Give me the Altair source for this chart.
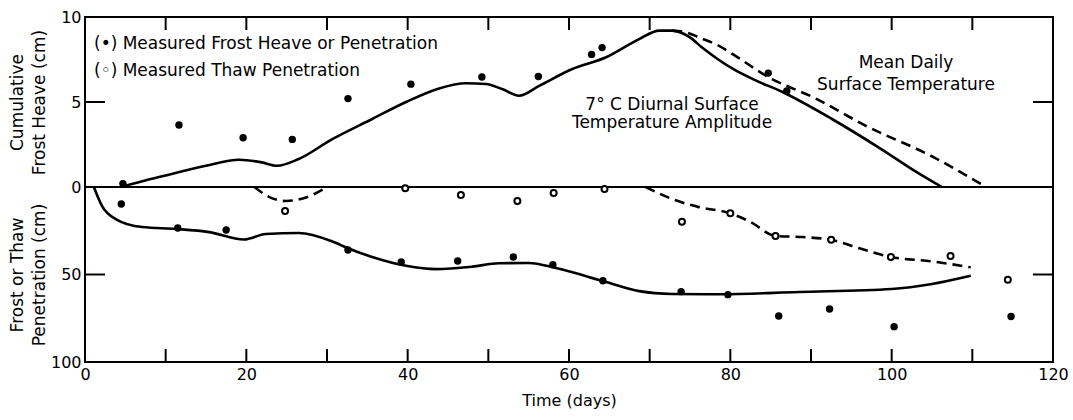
import altair as alt
import pandas as pd

FONT = "DejaVu Sans"

# ---------------- top panel : cumulative frost heave (cm) ----------------
heave_7c_day = [4.5, 8.0, 11.7, 15.0, 19.1, 21.9, 23.8, 26.5, 30.6, 35.6, 39.8, 43.9, 47.2,
                49.7, 51.7, 53.8, 56.3, 60.4, 64.6, 68.7, 71.2, 72.8, 75.0, 76.5, 78.5, 80.5,
                83.0, 86.4, 92.6, 98.8, 103.0, 106.2]
heave_7c_cm = [0.0, 0.45, 0.88, 1.25, 1.6, 1.45, 1.25, 1.65, 2.8, 4.0, 5.0, 5.8, 6.1,
               6.06, 5.76, 5.37, 5.95, 6.94, 7.63, 8.7, 9.2, 9.2, 8.8, 8.2, 7.5, 6.9,
               6.3, 5.6, 4.0, 2.2, 0.9, 0.0]

heave_mean_day = [72.8, 74.5, 76.1, 78.6, 81.0, 84.4, 90.6, 96.8, 105.0, 111.7]
heave_mean_cm = [9.2, 9.1, 8.8, 8.3, 7.6, 6.55, 5.2, 3.6, 1.8, 0.0]

heave_meas_day = [4.7, 11.65, 19.6, 25.7, 32.6, 40.4, 49.2, 56.2, 62.8, 64.1, 84.7, 87.0]
heave_meas_cm = [0.2, 3.65, 2.9, 2.8, 5.2, 6.05, 6.47, 6.5, 7.8, 8.2, 6.7, 5.65]

# ---------------- bottom panel : frost or thaw penetration (cm) ----------------
frost_pen_day = [1.1, 2.1, 3.8, 7.1, 11.3, 15.4, 19.7, 22.4, 26.5, 30.6, 32.6, 35.6, 39.8,
                 43.5, 48.0, 51.3, 55.0, 58.4, 64.6, 68.7, 72.8, 78.6, 88.5, 100.0, 105.0, 109.8]
frost_pen_cm = [0.0, 10.8, 18.3, 22.9, 24.0, 25.8, 30.0, 26.9, 26.3, 31.0, 35.0, 40.0, 45.0,
                46.9, 45.5, 43.6, 43.4, 46.3, 54.3, 59.5, 61.1, 61.3, 60.0, 58.3, 55.4, 50.7]

thaw_dip_day = [21.0, 22.8, 24.9, 27.5, 30.0]
thaw_dip_cm = [0.0, 5.6, 8.0, 5.8, 0.0]

thaw_pen_day = [69.5, 72.8, 76.1, 79.8, 82.5, 85.6, 89.0, 92.5, 96.0, 99.9, 105.0, 109.8]
thaw_pen_cm = [0.0, 6.9, 11.5, 14.8, 20.0, 28.0, 28.6, 30.2, 35.0, 40.0, 42.5, 45.9]

frost_meas_day = [4.5, 11.5, 17.5, 32.6, 39.2, 46.2, 53.1, 58.0, 64.2, 73.9, 79.7, 86.0,
                  92.3, 100.3, 114.8]
frost_meas_cm = [9.7, 23.4, 24.6, 36.0, 42.8, 42.3, 40.0, 44.4, 53.6, 59.8, 61.5, 73.7,
                 69.7, 79.8, 74.0]

thaw_meas_day = [24.8, 39.7, 46.6, 53.6, 58.1, 64.4, 74.0, 80.0, 85.6, 92.5, 99.9, 107.3, 114.4]
thaw_meas_cm = [13.7, 0.7, 4.6, 8.0, 3.4, 1.1, 19.8, 15.0, 28.0, 30.2, 40.0, 39.4, 53.0]

# ---------------- axes / text ----------------
x_label_values = [0, 20, 40, 60, 80, 100, 120]
x_minor_ticks = [10, 20, 30, 40, 50, 60, 70, 80, 90, 100, 110]
top_y_labels = [0, 5, 10]
bot_y_labels = [50, 100]
top_y_ticks = [5]
bot_y_ticks = [50]

top_title = ["Cumulative", "Frost Heave (cm)"]
bot_title = ["Frost or Thaw", "Penetration (cm)"]
x_title = "Time (days)"
legend_lines = ["(\u2022) Measured Frost Heave or Penetration", "(\u25e6) Measured Thaw Penetration"]
note_7c = ["7\u00b0 C Diurnal Surface", "Temperature Amplitude"]
note_mean = ["Mean Daily", "Surface Temperature"]

W = 968
H_TOP = 170
H_BOT = 175
X_TICK = 13   # inward tick length (px) on the time axis
Y_TICK = 20   # inward tick length (px) on the heave / penetration axes

x_scale = alt.Scale(domain=[0, 120], nice=False, zero=False)
y_top = alt.Scale(domain=[0, 10], nice=False)
y_bot = alt.Scale(domain=[0, 100], nice=False, reverse=True)


def df(xs, ys):
    return pd.DataFrame({"day": xs, "cm": ys})


LINE = dict(color="black", strokeWidth=2.6, interpolate="monotone")
DASH = dict(color="black", strokeWidth=2.6, interpolate="monotone", strokeDash=[10, 6])


def y_axis(values, title):
    return alt.Axis(
        values=values, ticks=False, tickSize=0, domain=False, grid=False,
        labelFontSize=16, labelPadding=4, labelFlush=False, labelFont=FONT, labelColor="black",
        title=title, titleFont=FONT, titleFontSize=17, titleFontWeight="normal",
        titleColor="black", titleLineHeight=22, titlePadding=4, minExtent=33, maxExtent=33)


X_AXIS_BOT = alt.Axis(
    values=x_label_values, ticks=False, tickSize=0, domain=False, grid=False,
    labelFontSize=16, labelPadding=4, labelFlush=False, labelFont=FONT, labelColor="black",
    title=x_title, titleFont=FONT, titleFontSize=16, titleFontWeight="normal",
    titleColor="black", titlePadding=10)
Y_AXIS_TOP = y_axis(top_y_labels, top_title)
Y_AXIS_BOT = y_axis(bot_y_labels, bot_title)


def series(xs, ys, yscale, xaxis, yaxis):
    return alt.Chart(df(xs, ys)).encode(
        x=alt.X("day:Q", scale=x_scale, axis=xaxis),
        y=alt.Y("cm:Q", scale=yscale, axis=yaxis),
    )


def x_ticks(y_center, xaxis):
    return alt.Chart(pd.DataFrame({"t": x_minor_ticks})).mark_tick(
        color="black", thickness=2, size=X_TICK, opacity=1
    ).encode(x=alt.X("t:Q", scale=x_scale, axis=xaxis), y=alt.value(y_center))


def y_ticks(vals, scale, yaxis, x_center):
    return alt.Chart(pd.DataFrame({"v": vals})).mark_tick(
        color="black", thickness=2, size=Y_TICK, opacity=1
    ).encode(y=alt.Y("v:Q", scale=scale, axis=yaxis), x=alt.value(x_center))


def text_layer(txt, x, y, align="left"):
    return alt.Chart(pd.DataFrame({"label": [txt]})).mark_text(
        align=align, baseline="alphabetic", font=FONT, fontSize=17, color="black"
    ).encode(text="label:N", x=alt.value(x), y=alt.value(y))


# ---- top panel layers
top_line = series(heave_7c_day, heave_7c_cm, y_top, None, Y_AXIS_TOP).mark_line(**LINE)
top_dash = series(heave_mean_day, heave_mean_cm, y_top, None, Y_AXIS_TOP).mark_line(**DASH)
top_pts = series(heave_meas_day, heave_meas_cm, y_top, None, Y_AXIS_TOP).mark_circle(
    color="black", size=55, opacity=1)

texts = [
    text_layer(legend_lines[0], 9, 32),
    text_layer(legend_lines[1], 9, 59),
    text_layer(note_7c[0], 587, 93, "center"),
    text_layer(note_7c[1], 587, 111, "center"),
    text_layer(note_mean[0], 821, 51, "center"),
    text_layer(note_mean[1], 821, 73, "center"),
]

top = alt.layer(
    top_line, top_dash, top_pts, *texts,
    x_ticks(X_TICK / 2, None),
    y_ticks(top_y_ticks, y_top, Y_AXIS_TOP, Y_TICK / 2),
    y_ticks(top_y_ticks, y_top, Y_AXIS_TOP, W - Y_TICK / 2),
).properties(width=W, height=H_TOP)

# ---- bottom panel layers
bot_line = series(frost_pen_day, frost_pen_cm, y_bot, X_AXIS_BOT, Y_AXIS_BOT).mark_line(**LINE)
bot_dip = series(thaw_dip_day, thaw_dip_cm, y_bot, X_AXIS_BOT, Y_AXIS_BOT).mark_line(**DASH)
bot_dash = series(thaw_pen_day, thaw_pen_cm, y_bot, X_AXIS_BOT, Y_AXIS_BOT).mark_line(**DASH)
bot_fpts = series(frost_meas_day, frost_meas_cm, y_bot, X_AXIS_BOT, Y_AXIS_BOT).mark_circle(
    color="black", size=55, opacity=1)
bot_tpts = series(thaw_meas_day, thaw_meas_cm, y_bot, X_AXIS_BOT, Y_AXIS_BOT).mark_point(
    shape="circle", fill="white", fillOpacity=1, stroke="black", strokeWidth=2, size=36, opacity=1)

bottom = alt.layer(
    bot_line, bot_dip, bot_dash, bot_fpts, bot_tpts,
    x_ticks(H_BOT - X_TICK / 2, X_AXIS_BOT),
    y_ticks(bot_y_ticks, y_bot, Y_AXIS_BOT, Y_TICK / 2),
    y_ticks(bot_y_ticks, y_bot, Y_AXIS_BOT, W - Y_TICK / 2),
).properties(width=W, height=H_BOT)

chart = alt.vconcat(top, bottom, spacing=0, bounds="flush").properties(
    padding={"left": 7, "top": 8, "right": 3, "bottom": 5},
    background="white",
).configure(font=FONT).configure_view(stroke="black", strokeWidth=2)

chart.save("out.html", embed_options={"renderer": "svg", "actions": False})
